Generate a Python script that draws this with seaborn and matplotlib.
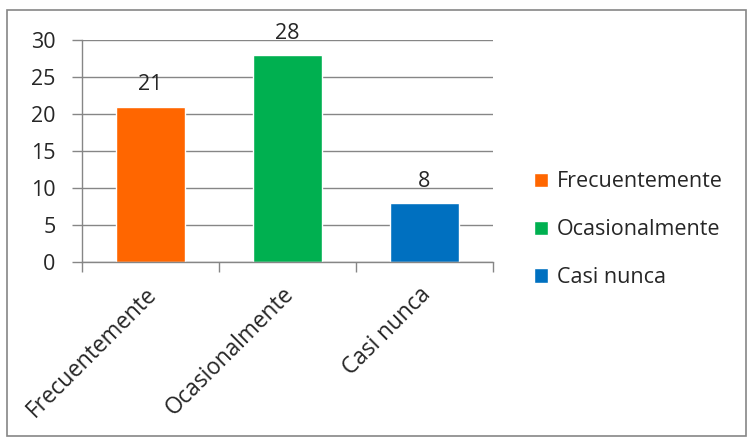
import matplotlib
matplotlib.use("Agg")
import matplotlib.pyplot as plt
import seaborn as sns
import pandas as pd
from matplotlib.patches import Rectangle

categories = ["Frecuentemente", "Ocasionalmente", "Casi nunca"]
values = [21, 28, 8]
colors = ["#FF6600", "#00B050", "#0070C0"]
yticks = [0, 5, 10, 15, 20, 25, 30]

sns.set_theme(style="white")
plt.rcParams['font.family'] = ['Open Sans', 'DejaVu Sans']

FS = 15.5
XFS = 16.3

df = pd.DataFrame({"cat": categories, "val": values})

fig = plt.figure(figsize=(7.55, 4.41), dpi=100)
ax = fig.add_axes([82/755, 1-262/441, (493-82)/755, (262-40)/441])

sns.barplot(data=df, x="cat", y="val", hue="cat", palette=colors,
            order=categories, hue_order=categories, width=0.5,
            dodge=False, legend=True, ax=ax, saturation=1)

gray = "#868686"
ax.set_ylim(0, 30)
ax.set_xlim(-0.5, 2.5)
ax.set_yticks(yticks)
ax.set_yticklabels([str(t) for t in yticks], fontsize=FS)
ax.yaxis.grid(True, color=gray, linewidth=1)
ax.set_axisbelow(True)
for s in ["top", "right"]:
    ax.spines[s].set_visible(False)
for s in ["left", "bottom"]:
    ax.spines[s].set_color(gray)
    ax.spines[s].set_linewidth(1)
ax.tick_params(axis="y", length=7, color=gray, width=1, left=True, pad=12)
ax.set_xticks([-0.5, 0.5, 1.5, 2.5], minor=False)
ax.set_xticklabels([])
ax.tick_params(axis="x", length=7, color=gray, width=1, bottom=True)
ax.set_xlabel("")
ax.set_ylabel("")

# rotated category labels
for i, c in enumerate(categories):
    ax.annotate(c, xy=(i, 0), xycoords="data", xytext=(2, -21),
                textcoords="offset points", rotation=45, ha="right",
                va="center", rotation_mode="anchor", fontsize=XFS)

for cont in ax.containers:
    ax.bar_label(cont, padding=8, fontsize=FS)

h, l = ax.get_legend_handles_labels()
ax.legend(h, l, loc="center left", bbox_to_anchor=(1.053, 0.145),
          frameon=False, fontsize=FS, handlelength=0.65, handleheight=0.65,
          labelspacing=1.25, handletextpad=0.4)

fig.patches.append(Rectangle((7/755, 1-436/441), (746-7)/755, (436-10)/441,
                             transform=fig.transFigure, fill=False,
                             edgecolor=gray, linewidth=1.2))

fig.savefig("out.png", dpi=100)
